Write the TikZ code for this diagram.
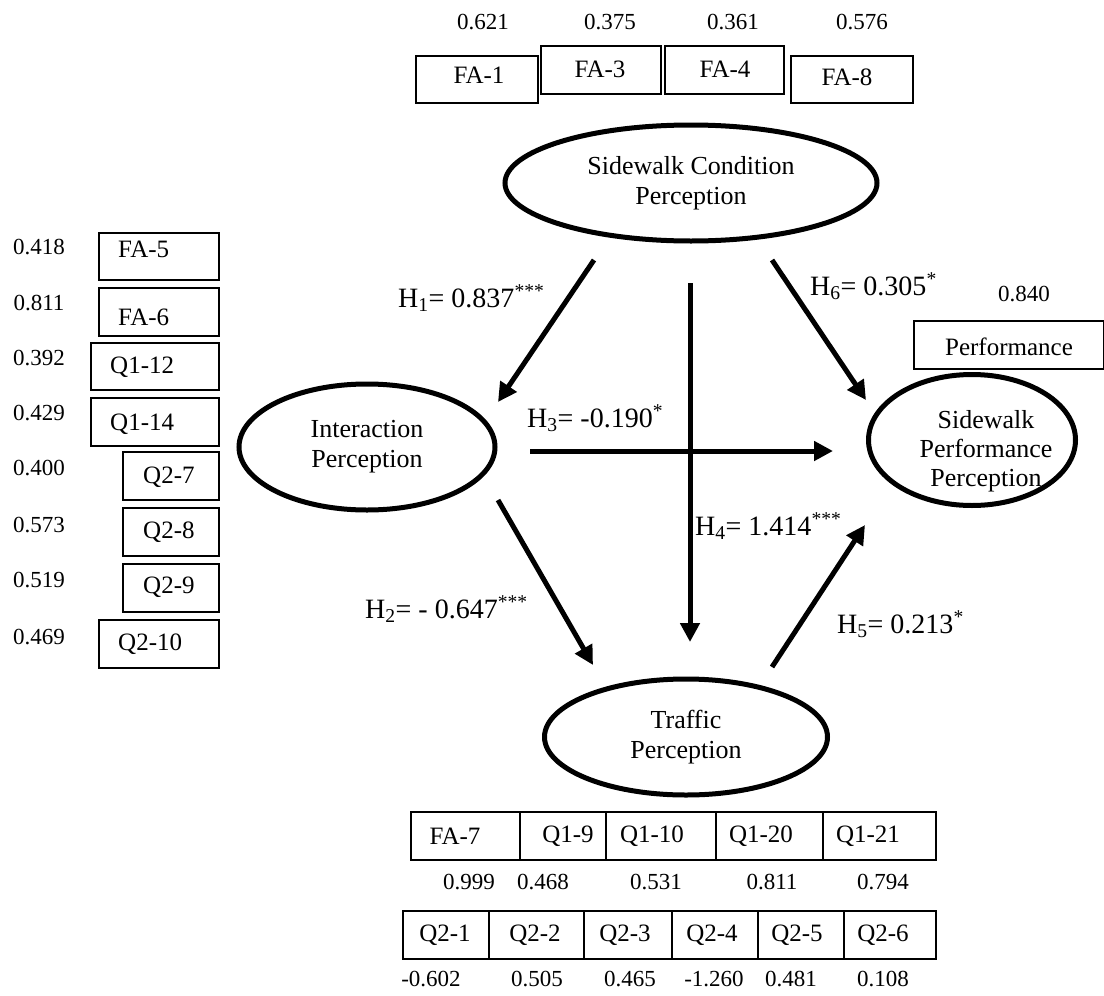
\documentclass[tikz,border=0pt]{standalone}
\usepackage{fontspec}
\setmainfont{Liberation Serif}
\usetikzlibrary{shapes.geometric,arrows.meta,calc}

\begin{document}
\begin{tikzpicture}[x=1pt,y=-1pt,
  num/.style={font=\fontsize{23}{27}\selectfont, inner sep=0pt},
  itm/.style={font=\fontsize{25}{30}\selectfont, inner sep=0pt},
  obox/.style={draw, line width=1.6pt, rectangle, inner sep=0pt, anchor=north west},
  latent/.style={draw, ellipse, line width=5pt, inner sep=0pt, align=center,
    font=\fontsize{26}{30}\selectfont},
  hyp/.style={font=\fontsize{28}{32}\selectfont, anchor=base west, inner sep=0pt},
  effect/.style={line width=5pt, -{Triangle[length=19pt,width=19pt]}}
]
\useasboundingbox (0,0) rectangle (1104,996);

% ---------- latent constructs ----------
\node[latent, minimum width=372pt, minimum height=116pt] (sc) at (691,183)
  {Sidewalk Condition\\Perception};
\node[latent, minimum width=256pt, minimum height=126pt] (inter) at (367,447)
  {Interaction\\Perception};
\node[latent, minimum width=283pt, minimum height=116pt] (traf) at (686,737)
  {Traffic\\Perception};
\node[latent, minimum width=207pt, minimum height=131pt] (perf) at (972,440) {};
\node[align=center, font=\fontsize{26}{29}\selectfont, inner sep=0pt] (perft) at (986,451)
  {Sidewalk\\Performance\\Perception};

% ---------- indicators of sidewalk condition ----------
\node[obox, minimum width=122pt, minimum height=47pt] (fa1) at (415,55) {};
\node[obox, minimum width=120pt, minimum height=48pt] (fa3) at (540,45) {};
\node[obox, minimum width=119pt, minimum height=48pt] (fa4) at (664,45) {};
\node[obox, minimum width=122pt, minimum height=47pt] (fa8) at (790,55) {};
\node[itm] (fa1t) at (479,75) {FA-1};
\node[itm] (fa3t) at (600,69) {FA-3};
\node[itm] (fa4t) at (725,69) {FA-4};
\node[itm] (fa8t) at (847,77) {FA-8};
\node[num] (fa1n) at (483,22) {0.621};
\node[num] (fa3n) at (610,22) {0.375};
\node[num] (fa4n) at (733,22) {0.361};
\node[num] (fa8n) at (862,22) {0.576};

% ---------- indicators of interaction ----------
\node[obox, minimum width=120pt, minimum height=47pt] (fa5) at (98,232) {};
\node[obox, minimum width=120pt, minimum height=48pt] (fa6) at (98,287) {};
\node[obox, minimum width=128pt, minimum height=47pt] (q112) at (90,342) {};
\node[obox, minimum width=128pt, minimum height=48pt] (q114) at (90,397) {};
\node[obox, minimum width=96pt, minimum height=48pt] (q27) at (122,451) {};
\node[obox, minimum width=96pt, minimum height=48pt] (q28) at (122,507) {};
\node[obox, minimum width=96pt, minimum height=48pt] (q29) at (122,563) {};
\node[obox, minimum width=120pt, minimum height=48pt] (q210) at (98,619) {};
\node[itm, anchor=west] (fa5t) at (118,249) {FA-5};
\node[itm, anchor=west] (fa6t) at (118,317) {FA-6};
\node[itm, anchor=west] (q112t) at (110,367) {Q1-12};
\node[itm, anchor=west] (q114t) at (110,424) {Q1-14};
\node[itm, anchor=west] (q27t) at (143,477) {Q2-7};
\node[itm, anchor=west] (q28t) at (143,532) {Q2-8};
\node[itm, anchor=west] (q29t) at (143,587) {Q2-9};
\node[itm, anchor=west] (q210t) at (118,644) {Q2-10};
\node[num] (fa5n) at (39,247) {0.418};
\node[num] (fa6n) at (39,303) {0.811};
\node[num] (q112n) at (39,358) {0.392};
\node[num] (q114n) at (39,413) {0.429};
\node[num] (q27n) at (39,468) {0.400};
\node[num] (q28n) at (39,525) {0.573};
\node[num] (q29n) at (39,580) {0.519};
\node[num] (q210n) at (39,637) {0.469};

% ---------- indicator of sidewalk performance ----------
\node[obox, minimum width=190pt, minimum height=48pt] (pbox) at (913,320) {};
\node[itm] (pboxt) at (1009,347) {Performance};
\node[num] (pboxn) at (1024,294) {0.840};

% ---------- indicators of traffic: first row ----------
\node[obox, minimum width=109pt, minimum height=48pt] (fa7) at (410,811) {};
\node[obox, minimum width=86pt, minimum height=48pt] (q19) at (519,811) {};
\node[obox, minimum width=110pt, minimum height=48pt] (q110) at (605,811) {};
\node[obox, minimum width=107pt, minimum height=48pt] (q120) at (715,811) {};
\node[obox, minimum width=113pt, minimum height=48pt] (q121) at (822,811) {};
\node[itm] (fa7t) at (455,836) {FA-7};
\node[itm] (q19t) at (568,836) {Q1-9};
\node[itm] (q110t) at (652,836) {Q1-10};
\node[itm] (q120t) at (761,836) {Q1-20};
\node[itm] (q121t) at (868,836) {Q1-21};
\node[num] (fa7n) at (469,882) {0.999};
\node[num] (q19n) at (543,882) {0.468};
\node[num] (q110n) at (656,882) {0.531};
\node[num] (q120n) at (772,882) {0.811};
\node[num] (q121n) at (883,882) {0.794};

% ---------- indicators of traffic: second row ----------
\node[obox, minimum width=86pt, minimum height=48pt] (q21) at (402,910) {};
\node[obox, minimum width=95pt, minimum height=48pt] (q22) at (488,910) {};
\node[obox, minimum width=88pt, minimum height=48pt] (q23) at (583,910) {};
\node[obox, minimum width=86pt, minimum height=48pt] (q24) at (671,910) {};
\node[obox, minimum width=86pt, minimum height=48pt] (q25) at (757,910) {};
\node[obox, minimum width=92pt, minimum height=48pt] (q26) at (843,910) {};
\node[itm] (q21t) at (445,935) {Q2-1};
\node[itm] (q22t) at (535,935) {Q2-2};
\node[itm] (q23t) at (625,935) {Q2-3};
\node[itm] (q24t) at (712,935) {Q2-4};
\node[itm] (q25t) at (797,935) {Q2-5};
\node[itm] (q26t) at (883,935) {Q2-6};
\node[num] (q21n) at (431,979) {-0.602};
\node[num] (q22n) at (537,979) {0.505};
\node[num] (q23n) at (630,979) {0.465};
\node[num] (q24n) at (714,979) {-1.260};
\node[num] (q25n) at (791,979) {0.481};
\node[num] (q26n) at (883,979) {0.108};

% ---------- structural paths ----------
\coordinate (h1a) at ($(sc.center)+(-97,77)$);
\coordinate (h1b) at ($(inter.center)+(131,-45)$);
\coordinate (h6a) at ($(sc.center)+(81,77)$);
\coordinate (h6b) at ($(perf.center)+(-106,-40)$);
\coordinate (h4a) at ($(sc.center)+(-1,100)$);
\coordinate (h4b) at ($(traf.center)+(4,-95)$);
\coordinate (h3a) at ($(inter.center)+(163,4)$);
\coordinate (h3b) at ($(perf.center)+(-139,11)$);
\coordinate (h2a) at ($(inter.center)+(131,53)$);
\coordinate (h2b) at ($(traf.center)+(-93,-72)$);
\coordinate (h5a) at ($(traf.center)+(86,-70)$);
\coordinate (h5b) at ($(perf.center)+(-107,85)$);

\draw[effect] (h1a) -- (h1b);
\draw[effect] (h6a) -- (h6b);
\draw[effect] (h4a) -- (h4b);
\draw[effect] (h3a) -- (h3b);
\draw[effect] (h2a) -- (h2b);
\draw[effect] (h5a) -- (h5b);

% ---------- path coefficients ----------
\node[hyp] (h1) at (398,307) {H\textsubscript{1}= 0.837\textsuperscript{***}};
\node[hyp] (h6) at (810,295) {H\textsubscript{6}= 0.305\textsuperscript{*}};
\node[hyp] (h3) at (527,427) {H\textsubscript{3}= -0.190\textsuperscript{*}};
\node[hyp] (h4) at (695,535) {H\textsubscript{4}= 1.414\textsuperscript{***}};
\node[hyp] (h2) at (365,618) {H\textsubscript{2}= - 0.647\textsuperscript{***}};
\node[hyp] (h5) at (837,633) {H\textsubscript{5}= 0.213\textsuperscript{*}};
\end{tikzpicture}
\end{document}
